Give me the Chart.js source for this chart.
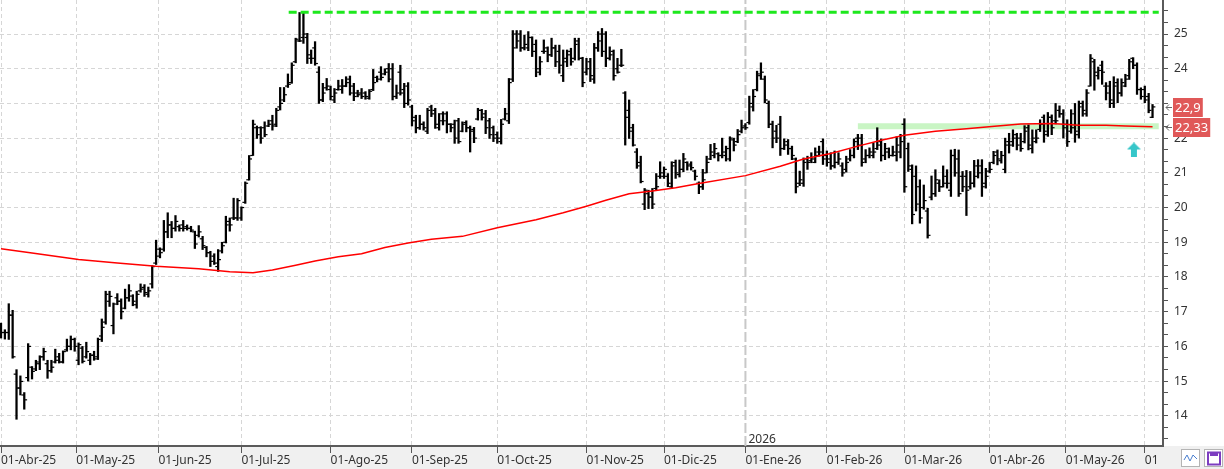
<!DOCTYPE html>
<html lang="es">
<head>
<meta charset="utf-8">
<title>Cotización diaria</title>
<script src="https://cdn.jsdelivr.net/npm/chart.js@4.4.1/dist/chart.umd.min.js"></script>
<style>
  html, body { margin: 0; padding: 0; background: #fff; }
  canvas { display: block; }
</style>
</head>
<body>
<canvas id="priceChart" width="1224" height="469"></canvas>
<script>
'use strict';

/* --------------------------------------------------------------------------
   DATA — one bar per trading day, 01-Abr-25 .. 03-Jun-26
   -------------------------------------------------------------------------- */
const opens = [
    16.5,16.4,16.4,16.9,15.2,14.8,14.6,15.1,15.4,15.35, 15.5,15.7,15.5,15.3,15.55,15.7,15.55,15.9,16.0,16.2,
    15.6,15.95,15.7,15.6,15.75,15.7,16.3,16.7,17.3,16.6, 17.4,17.3,17.1,17.4,17.45,17.2,17.6,17.7,17.5,17.8, 18.4,
    18.8,18.8,19.3,19.5,19.4,19.45,19.5,19.45,19.4,19.3, 19.2,19.1,18.85,18.7,18.6,18.3,18.75,19.0,19.6,19.7, 19.7,
    19.7,20.15,20.8,21.5,22.3,22.3,22.3,22.35,22.5,22.4, 22.9,23.1,23.5,23.6,24.2,24.8,24.9,24.9,24.3,24.6, 23.9,23.1,23.45,
    23.4,23.1,23.4,23.4,23.5,23.7,23.5,23.3,23.3,23.3, 23.15,23.4,23.75,23.9,23.85,24.0,24.0,23.2,23.9,23.4, 23.5,
    22.9,22.6,22.3,22.4,22.2,22.9,22.8,22.3,22.7,22.7, 22.4,22.4,22.5,22.2,22.45,22.3,22.25,22.55,22.8,22.7, 22.5,22.3,
    22.1,21.9,22.55,22.5,23.7,25.0,25.0,24.6,24.6,24.9, 24.7,23.9,24.5,24.6,24.4,24.6,24.5,23.8,24.2,24.5, 24.3,24.8,24.3,
    23.9,24.2,23.7,24.6,25.0,25.0,24.3,24.5,24.0,24.1, 23.3,22.8,22.3,21.6,21.3,20.1,20.4,20.3,20.55,20.9,
    20.9,20.9,20.6,21.3,20.95,21.1,21.3,21.25,21.05,20.7, 20.6,21.0,21.4,21.5,21.55,21.5,21.5,21.4,21.95,21.9, 22.2,
    22.35,22.45,22.9,23.4,23.8,23.7,23.0,22.4,22.2,22.4, 21.7,21.9,21.7,21.4,20.7,20.7,21.4,21.35,21.3,21.6, 21.9,
    21.5,21.4,21.2,21.3,21.2,21.1,21.4,21.5,22.0,22.0, 21.4,21.5,21.5,21.7,21.9,21.5,21.6,21.5,21.5,21.6,
    22.4,21.7,21.1,20.9,20.6,20.0,19.9,20.3,20.4,20.7, 20.6,20.9,20.5,21.5,21.4,20.9,20.9,20.6,20.7,21.2, 21.2,20.7,
    21.05,21.3,21.6,21.35,21.1,21.9,21.9,22.1,22.0,21.9, 22.3,21.7,21.9,22.25,22.6,22.1,22.6,22.5,22.8,22.7,
    22.4,22.2,22.7,22.1,23.0,22.7,23.5,24.2,23.8,24.1, 23.5,23.5,23.0,23.6,23.3,23.5,23.8,24.3,24.1,23.4,
    23.4,23.2,22.6
];
const highs = [
    16.67,16.48,17.23,17.04,15.33,15.15,14.67,16.08,15.42,15.6, 15.73,15.95,15.6,15.6,15.92,15.8,15.87,16.21,16.3,16.24,
    16.1,16.0,16.12,15.8,15.86,16.24,16.79,17.59,17.59,17.25, 17.52,17.37,17.65,17.78,17.49,17.59,17.8,17.78,17.71,18.33, 19.06,
    18.84,19.63,19.85,19.6,19.77,19.5,19.63,19.5,19.46,19.32, 19.48,19.17,18.88,18.74,18.67,18.79,19.0,19.75,19.7,20.27, 20.26,
    20.02,20.74,21.5,22.52,22.35,22.33,22.47,22.52,22.66,22.86, 23.46,23.46,23.85,24.17,24.88,25.62,25.62,25.02,24.54,24.78, 24.06,23.58,23.72,
    23.5,23.43,23.67,23.69,23.77,23.79,23.58,23.38,23.43,23.34, 23.4,23.98,23.79,24.06,24.0,24.15,24.15,23.53,24.1,23.58, 23.6,
    22.95,22.66,22.66,22.47,22.86,22.95,22.86,22.71,22.76,22.76, 22.42,22.52,22.57,22.47,22.5,22.35,22.31,22.86,22.83,22.8, 22.57,22.35,
    22.18,22.54,22.86,23.72,25.1,25.1,25.1,24.97,25.07,24.92, 24.83,24.35,24.83,24.63,24.88,24.68,24.68,24.54,24.54,24.59, 24.88,24.88,24.33,
    24.3,24.3,24.73,25.07,25.16,25.07,24.63,24.54,24.3,24.56, 23.34,23.1,22.4,21.7,21.48,20.55,20.5,20.55,20.98,21.32,
    21.17,20.98,21.32,21.37,21.37,21.56,21.32,21.32,21.08,20.74, 21.1,21.48,21.82,21.85,21.58,22.0,21.77,22.04,22.0,22.25, 22.52,
    22.42,23.21,23.4,23.93,24.17,23.79,23.07,22.49,22.37,22.63, 21.98,21.96,21.77,21.43,21.05,21.43,21.48,21.58,21.72,21.77, 21.98,
    21.63,21.58,21.63,21.58,21.29,21.48,21.67,21.98,22.11,22.11, 21.67,21.72,21.87,22.3,21.98,21.85,21.72,21.77,22.04,22.11,
    22.56,21.86,21.23,21.2,20.8,20.65,19.98,20.91,21.09,20.8, 21.2,21.09,21.66,21.68,21.66,21.04,21.07,21.04,21.36,21.38, 21.38,21.13,
    21.3,21.62,21.66,21.62,22.0,22.14,22.24,22.14,22.14,22.36, 22.38,22.24,22.24,22.53,22.67,22.74,22.67,23.0,22.93,22.82,
    22.53,22.82,23.0,23.07,23.07,23.4,24.41,24.27,24.05,24.22, 23.6,23.64,23.77,23.71,23.71,23.84,24.27,24.32,24.17,23.45,
    23.5,23.29,22.97
];
const lows = [
    16.24,16.21,16.2,15.66,13.9,14.6,14.19,15.0,15.06,15.3, 15.33,15.6,15.08,15.25,15.52,15.52,15.52,15.86,15.9,15.86,
    15.47,15.52,15.66,15.47,15.6,15.62,16.14,16.64,17.15,16.36, 17.2,16.79,17.08,17.3,17.17,17.1,17.56,17.44,17.42,17.68, 18.36,
    18.55,18.74,19.13,19.13,19.32,19.32,19.32,19.35,19.3,18.82, 19.15,18.79,18.58,18.3,18.36,18.16,18.69,18.98,19.32,19.65, 19.63,
    19.63,20.12,20.79,21.5,21.99,21.85,22.04,22.33,22.23,22.33, 22.81,23.05,23.46,23.58,24.17,24.78,24.73,24.15,24.15,24.1, 23.0,23.05,23.38,
    23.1,23.02,23.38,23.29,23.48,23.24,23.08,23.19,23.14,23.12, 23.12,23.37,23.62,23.67,23.82,23.62,23.1,23.14,23.24,22.88, 22.95,
    22.35,22.15,22.25,22.23,22.13,22.62,22.28,22.23,22.38,22.15, 22.18,21.85,21.85,22.18,22.18,21.6,21.87,22.52,22.52,22.13, 21.99,21.9,
    21.85,21.83,22.52,22.42,23.63,24.59,24.5,24.54,24.52,24.35, 23.77,23.82,24.44,24.2,24.35,24.06,23.87,23.63,24.06,24.1, 24.25,24.25,23.48,
    23.82,23.63,23.58,24.5,24.35,24.06,24.25,23.67,23.87,24.06, 21.8,21.99,21.77,21.13,20.71,19.94,19.97,19.97,20.5,20.84,
    20.84,20.6,20.55,20.84,20.88,21.03,21.08,21.08,20.79,20.4, 20.52,21.0,21.38,21.43,21.34,21.43,21.34,21.34,21.63,21.87, 22.15,
    22.25,22.4,22.78,23.36,23.69,23.02,22.3,21.72,21.87,21.5, 21.67,21.53,21.38,20.42,20.63,20.61,21.1,21.29,21.29,21.48, 21.24,
    21.19,21.1,21.14,21.24,20.9,21.02,21.34,21.43,21.67,21.19, 21.29,21.43,21.43,21.67,21.34,21.38,21.43,21.48,21.34,21.43,
    20.44,21.04,19.53,19.9,19.55,19.95,19.12,20.22,20.32,20.46, 20.59,20.56,20.32,20.9,20.32,20.46,19.77,20.53,20.59,20.85, 20.32,20.56,
    21.0,21.26,21.23,21.28,21.0,21.57,21.76,21.66,21.62,21.86, 21.66,21.57,21.86,22.19,21.88,22.05,22.1,22.41,22.6,22.0,
    21.76,22.14,21.88,22.0,22.63,22.63,23.5,23.38,23.7,23.55, 23.1,22.88,22.88,23.02,23.21,23.48,23.69,24.0,23.26,23.12,
    23.02,22.73,22.59
];
const closes = [
    16.4,16.4,16.9,15.7,14.8,14.99,14.46,16.0,15.28,15.55, 15.7,15.85,15.3,15.4,15.6,15.55,15.85,16.0,16.2,16.0,
    16.05,15.57,15.85,15.74,15.64,16.2,16.55,17.5,17.44,17.22, 17.3,17.0,17.4,17.6,17.3,17.5,17.65,17.55,17.6,18.3, 18.6,
    18.7,19.3,19.5,19.4,19.6,19.4,19.4,19.4,19.35,18.95, 19.3,18.9,18.7,18.45,18.4,18.5,18.9,19.5,19.5,19.7, 20.2,
    20.0,20.7,21.4,22.4,22.1,22.0,22.1,22.4,22.35,22.8, 23.0,23.25,23.55,24.1,24.85,24.8,25.0,24.4,24.3,24.15, 23.1,23.3,23.5,
    23.2,23.3,23.5,23.5,23.6,23.3,23.2,23.25,23.2,23.2, 23.35,23.6,23.7,23.75,23.9,23.7,23.2,23.3,23.3,23.0, 23.1,
    22.5,22.3,22.4,22.3,22.8,22.7,22.4,22.5,22.5,22.4, 22.3,22.0,21.9,22.4,22.3,22.2,22.0,22.8,22.6,22.3, 22.1,22.0,
    22.0,22.4,22.7,23.6,24.6,24.8,24.6,24.7,24.9,24.5, 24.0,24.2,24.5,24.4,24.6,24.2,24.1,24.3,24.4,24.2, 24.7,24.3,23.6,
    24.0,23.8,24.6,24.8,24.5,24.3,24.4,23.8,23.9,24.1, 22.6,22.2,21.8,21.2,20.75,20.5,20.3,20.1,20.6,21.0,
    21.1,20.7,21.2,21.0,21.1,21.4,21.2,21.15,20.9,20.6, 20.8,21.3,21.6,21.7,21.5,21.6,21.7,22.0,21.8,22.1, 22.3,
    22.3,23.0,23.2,23.85,23.9,23.1,22.4,22.0,22.0,21.7, 21.8,21.7,21.5,20.6,20.8,21.3,21.3,21.4,21.5,21.6, 21.4,
    21.3,21.2,21.3,21.4,21.0,21.3,21.5,21.9,21.8,21.3, 21.5,21.6,21.6,21.8,21.5,21.7,21.5,21.6,21.8,21.9,
    20.6,21.2,19.8,20.1,19.7,20.2,19.2,20.4,20.8,20.6, 20.7,20.7,21.5,21.0,20.4,20.6,20.5,20.7,20.9,21.0, 20.6,20.9,
    21.1,21.5,21.4,21.5,21.8,21.8,22.0,21.8,21.7,22.2, 21.8,22.0,22.0,22.4,22.2,22.6,22.3,22.5,22.7,22.3,
    21.9,22.3,22.2,22.9,22.8,23.3,24.3,23.9,23.95,23.9, 23.3,23.1,23.5,23.3,23.6,23.7,24.2,24.1,23.4,23.2,
    23.1,22.8,22.9
];

// 200-session moving average, read at sparse bar positions
const maIdx = [0, 8, 20, 30, 40, 51, 59, 65, 70, 76, 81, 87, 93, 99, 105, 111, 119, 128, 138, 145, 151,
               156, 162, 168, 174, 180, 192, 201, 207, 214, 221, 227, 233, 241, 249, 257, 263, 271, 278, 285, 290, 297];
const maVal = [18.81, 18.69, 18.5, 18.4, 18.31, 18.24, 18.15, 18.12, 18.2, 18.34, 18.46, 18.58, 18.67, 18.85, 18.98, 19.09, 19.17, 19.42, 19.65, 19.85, 20.04,
               20.21, 20.4, 20.48, 20.57, 20.69, 20.92, 21.19, 21.4, 21.56, 21.77, 21.94, 22.08, 22.2, 22.27, 22.35, 22.41, 22.42, 22.37, 22.37, 22.35, 22.33];

// month ticks on the time axis (bar index of first session)
const monthIdx = [0, 19.4, 40.6, 62, 85, 106, 128, 151, 171, 192, 213, 233, 255, 274.6, 295];
const monthLabels = ['01-Abr-25', '01-May-25', '01-Jun-25', '01-Jul-25', '01-Ago-25', '01-Sep-25', '01-Oct-25',
                     '01-Nov-25', '01-Dic-25', '01-Ene-26', '01-Feb-26', '01-Mar-26', '01-Abr-26', '01-May-26', '01-Jun-26'];

// drawn studies
const resistLevel = 25.63, resistFrom = 74.2, resistTo = 298.6;
const supportLevel = 22.34, supportFrom = 221, supportTo = 298.6;
const yearIdx = 192, yearLabel = '2026';
const signalIdx = 292.2, signalLevel = 21.66;

// last-value tags on the price axis
const tagValues = [22.9, 22.33];
const tagLabels = ['22,9', '22,33'];

const X_MIN = -0.26, X_MAX = 299.7;
const Y_MIN = 13.13, Y_MAX = 25.98;

/* --------------------------------------------------------------------------
   HELPERS
   -------------------------------------------------------------------------- */
const isWhole = v => Math.abs(v - Math.round(v)) < 1e-6;

function makeArrowIcon(color) {
    const c = document.createElement('canvas');
    c.width = 14; c.height = 15;
    const g = c.getContext('2d');
    g.fillStyle = color;
    g.beginPath();
    g.moveTo(7, 0); g.lineTo(14, 7); g.lineTo(10, 7); g.lineTo(10, 15);
    g.lineTo(4, 15); g.lineTo(4, 7); g.lineTo(0, 7);
    g.closePath(); g.fill();
    return c;
}

/* --------------------------------------------------------------------------
   PLUGINS — axis strip, price tags, toolbar icons
   -------------------------------------------------------------------------- */
const backdropPlugin = {
    id: 'backdrop',
    beforeDraw(chart) {
        const { ctx, width, height, chartArea } = chart;
        ctx.save();
        ctx.fillStyle = '#fff';
        ctx.fillRect(0, 0, width, height);
        ctx.fillStyle = '#f0f0f0';
        ctx.fillRect(0, chartArea.bottom, width, height - chartArea.bottom);
        ctx.restore();
    },
};

const overlayPlugin = {
    id: 'overlay',
    afterDraw(chart) {
        const { ctx, width, height, chartArea, scales: { x, y } } = chart;
        ctx.save();

        // year marker text
        ctx.font = '12px "Noto Sans"';
        ctx.fillStyle = '#333';
        ctx.textBaseline = 'alphabetic';
        ctx.fillText(yearLabel, x.getPixelForValue(yearIdx) + 3, chartArea.bottom - 3);

        // price tags
        ctx.font = '13px "Noto Sans"';
        ctx.textBaseline = 'middle';
        tagValues.forEach((v, k) => {
            const py = Math.round(y.getPixelForValue(v)) + 0.5;
            const left = chartArea.right + 10;
            const w = ctx.measureText(tagLabels[k]).width + 4;
            ctx.fillStyle = '#e05858';
            ctx.fillRect(left, py - 9.5, w, 19);
            ctx.fillStyle = '#fff';
            ctx.fillText(tagLabels[k], left + 2, py + 0.5);
            ctx.strokeStyle = '#666';
            ctx.lineWidth = 1;
            ctx.beginPath();
            ctx.moveTo(chartArea.right + 3, py); ctx.lineTo(chartArea.right + 9, py);
            ctx.moveTo(chartArea.right + 3, py); ctx.lineTo(chartArea.right + 6, py - 3);
            ctx.moveTo(chartArea.right + 3, py); ctx.lineTo(chartArea.right + 6, py + 3);
            ctx.stroke();
        });

        // clip last time label and draw toolbar buttons
        ctx.fillStyle = '#f0f0f0';
        ctx.fillRect(chartArea.right - 5, chartArea.bottom + 1, width - chartArea.right + 5, height - chartArea.bottom - 1);
        ctx.fillStyle = '#fff';
        ctx.strokeStyle = '#b4b4b4';
        ctx.lineWidth = 1;
        ctx.fillRect(1181.5, 449.5, 18, 17); ctx.strokeRect(1181.5, 449.5, 18, 17);
        ctx.fillRect(1204.5, 449.5, 18, 17); ctx.strokeRect(1204.5, 449.5, 18, 17);
        ctx.strokeStyle = '#4a7fd0';
        ctx.beginPath();
        ctx.moveTo(1184, 460); ctx.lineTo(1187, 455); ctx.lineTo(1190, 461); ctx.lineTo(1193, 455); ctx.lineTo(1197, 459);
        ctx.stroke();
        ctx.strokeStyle = '#7c3cc0';
        ctx.lineWidth = 2;
        ctx.strokeRect(1208, 452.5, 12, 12);
        ctx.fillStyle = '#7c3cc0';
        ctx.fillRect(1210, 452, 8, 4);
        ctx.restore();
    },
};

/* --------------------------------------------------------------------------
   CHART
   -------------------------------------------------------------------------- */
Chart.defaults.font.family = "'Noto Sans', 'DejaVu Sans', sans-serif";
Chart.defaults.font.size = 12;
Chart.defaults.color = '#333';

const barData = highs.map((h, i) => ({ x: i, y: [lows[i], h] }));
const closeData = closes.map((c, i) => ({ x: i + 0.4, y: c }));
const openData = opens.map((o, i) => ({ x: i - 0.4, y: o }));
const maData = maIdx.map((xi, i) => ({ x: xi, y: maVal[i] }));

const tickMark = { type: 'line', showLine: false, pointStyle: 'line', pointRadius: 1.3,
                   pointBorderWidth: 1.2, pointBorderColor: '#000', pointBackgroundColor: '#000' };

new Chart(document.getElementById('priceChart'), {
    type: 'bar',
    data: {
        datasets: [
            {
                type: 'line', label: 'Resistencia', order: 0,
                data: [{ x: resistFrom, y: resistLevel }, { x: resistTo, y: resistLevel }],
                borderColor: '#1de81d', borderWidth: 3, borderDash: [8, 4], pointRadius: 0,
            },
            {
                type: 'scatter', label: 'Señal', order: -1,
                data: [{ x: signalIdx, y: signalLevel }],
                pointStyle: makeArrowIcon('#36c6c9'), pointRadius: 7,
            },
            {
                type: 'line', label: 'MM200', order: 1, data: maData,
                borderColor: '#ff0000', borderWidth: 1.5, pointRadius: 0, tension: 0,
            },
            Object.assign({ label: 'Cierre', order: 2, data: closeData }, tickMark),
            Object.assign({ label: 'Apertura', order: 3, data: openData }, tickMark),
            {
                label: 'Rango', order: 4, data: barData,
                backgroundColor: '#000', borderWidth: 0, barThickness: 1.6, borderSkipped: false, grouped: false,
            },
            {
                type: 'line', label: 'Soporte', order: 5,
                data: [{ x: supportFrom, y: supportLevel }, { x: supportTo, y: supportLevel }],
                borderColor: '#c9f5c4', borderWidth: 6, borderCapStyle: 'butt', pointRadius: 0,
            },
            {
                type: 'line', label: 'Año', order: 6,
                data: [{ x: yearIdx, y: Y_MIN }, { x: yearIdx, y: Y_MAX }],
                borderColor: '#c8c8c8', borderWidth: 2, borderDash: [10, 3], pointRadius: 0,
            },
        ],
    },
    options: {
        responsive: false,
        animation: false,
        devicePixelRatio: 1,
        events: [],
        layout: { padding: 0, autoPadding: false },
        plugins: { legend: { display: false }, tooltip: { enabled: false } },
        scales: {
            x: {
                type: 'linear', min: X_MIN, max: X_MAX, offset: false,
                afterBuildTicks: s => { s.ticks = monthIdx.map(v => ({ value: v })); },
                afterFit: s => { s.height = 23; s.paddingLeft = 0; s.paddingRight = 0; },
                ticks: { autoSkip: false, maxRotation: 0, align: 'start', padding: 0, color: '#333',
                         callback: (v, i) => monthLabels[i] },
                grid: { offset: false, tickLength: 7, tickColor: '#555', tickWidth: 1,
                        color: ctx => (ctx.tick && ctx.tick.value === yearIdx ? 'rgba(0,0,0,0)' : '#d6d6d6') },
                border: { display: true, color: '#5a5a5a', width: 2, dash: [4, 3] },
            },
            y: {
                type: 'linear', position: 'right', min: Y_MIN, max: Y_MAX,
                afterBuildTicks: s => {
                    const t = [];
                    for (let k = 40; k <= 77; k++) t.push({ value: k / 3 });
                    s.ticks = t;
                },
                afterFit: s => { s.width = 61; s.paddingTop = 0; s.paddingBottom = 0; },
                ticks: { autoSkip: false, padding: 6, color: '#333',
                         callback: v => (isWhole(v) ? String(Math.round(v)) : '') },
                grid: { tickLength: 5, tickColor: '#555', tickWidth: 1,
                        color: ctx => (ctx.tick && isWhole(ctx.tick.value) ? '#d6d6d6' : 'rgba(0,0,0,0)') },
                border: { display: true, color: '#5a5a5a', width: 2, dash: [4, 3] },
            },
        },
    },
    plugins: [backdropPlugin, overlayPlugin],
});
</script>
</body>
</html>
